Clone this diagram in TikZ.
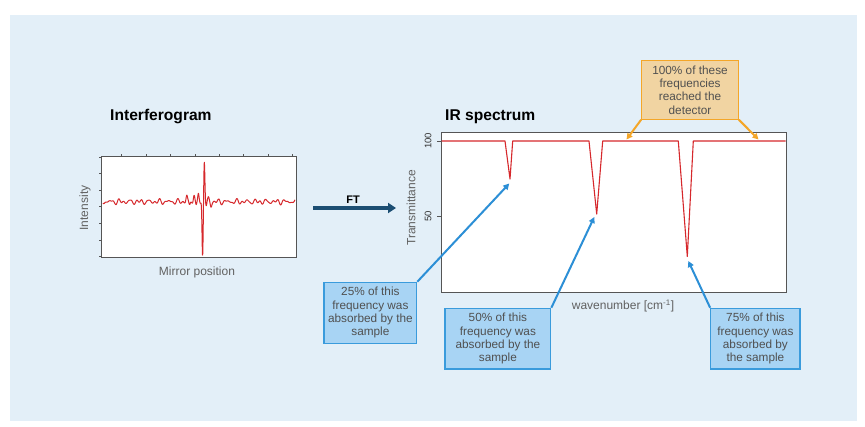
\documentclass[tikz,border=0pt]{standalone}
\usepackage{fontspec}
\setmainfont{Liberation Sans}
\usetikzlibrary{arrows.meta}
\definecolor{bgblue}{RGB}{227,239,248}
\definecolor{sigred}{RGB}{214,40,44}
\definecolor{ftblue}{RGB}{28,78,115}
\definecolor{orbord}{RGB}{244,166,40}
\definecolor{orfill}{RGB}{241,212,162}
\definecolor{blbord}{RGB}{58,155,220}
\definecolor{blfill}{RGB}{168,212,244}
\definecolor{blarrow}{RGB}{44,143,214}
\definecolor{txtgray}{RGB}{80,80,80}
\definecolor{axgray}{RGB}{85,85,85}
\begin{document}
\begin{tikzpicture}[x=1pt,y=-1pt,
  title/.style={font=\fontsize{15.6}{18}\selectfont\bfseries, text=black, inner sep=0pt},
  axlab/.style={font=\fontsize{12}{13}\selectfont, text=txtgray!90, inner sep=0pt},
  ticklab/.style={font=\fontsize{9.5}{11}\selectfont, text=black!80, inner sep=0pt},
  plotbox/.style={draw=axgray, line width=1pt, minimum width=#1, inner sep=0pt},
  sig/.style={draw=sigred, line width=1.1pt, line join=round},
  callout/.style={font=\fontsize{11.8}{13.4}\selectfont, text=txtgray, align=center, inner sep=0pt, line width=1.2pt},
  bluebox/.style={callout, draw=blbord, fill=blfill},
  orangebox/.style={callout, draw=orbord, fill=orfill},
  bluearrow/.style={draw=blarrow, line width=2pt, -{Triangle[length=6pt,width=6pt]}},
  orangearrow/.style={draw=orbord, line width=2pt, -{Triangle[length=6pt,width=6pt]}},
]
\useasboundingbox (0,0) rectangle (865,426);
\fill[bgblue] (10,15) rectangle (857,421);

% ---------- Interferogram ----------
\node[title, anchor=base west] (ttl1) at (110,120.5) {Interferogram};
\node[plotbox=195pt, minimum height=101pt, fill=white] (ibox) at (199.2,207.2) {};
\foreach \k in {0,...,7} {
  \draw[axgray, line width=0.8pt] (121.7+24.4*\k,156.7) -- ++(0,-3);
}
\foreach \k in {0,...,6} {
  \draw[axgray, line width=0.8pt] (101.7,157+16.6*\k) -- ++(-3,0);
}
\draw[sig, line width=1pt] plot[domain=103:295, samples=800] (\x,{201.7
  + 1.4*sin(37*(\x-103)) + 1.1*sin(61*(\x-103)+40) + 0.8*sin(79*(\x-103)+110)
  - 6*exp(max(-30,0-((\x-186.7)/1.0)*((\x-186.7)/1.0)))
  + 4*exp(max(-30,0-((\x-189.5)/1.0)*((\x-189.5)/1.0)))
  - 8*exp(max(-30,0-((\x-194)/1.0)*((\x-194)/1.0)))
  + 5*exp(max(-30,0-((\x-196.2)/0.9)*((\x-196.2)/0.9)))
  - 9*exp(max(-30,0-((\x-198.4)/0.9)*((\x-198.4)/0.9)))
  + 3*exp(max(-30,0-((\x-200.4)/0.8)*((\x-200.4)/0.8)))
  + 53*exp(max(-30,0-((\x-202.6)/0.8)*((\x-202.6)/0.8)))
  - 42*exp(max(-30,0-((\x-204.3)/0.8)*((\x-204.3)/0.8)))
  + 6*exp(max(-30,0-((\x-206.2)/0.9)*((\x-206.2)/0.9)))
  - 4*exp(max(-30,0-((\x-208.5)/1.0)*((\x-208.5)/1.0)))
  + 4*exp(max(-30,0-((\x-211)/1.0)*((\x-211)/1.0)))});
\node[axlab, rotate=90] (ilab) at (85,208) {Intensity};
\node[axlab] (mlab) at (197,272) {Mirror position};

% ---------- FT arrow ----------
\coordinate (fts) at (313,208);
\coordinate (fte) at (396,208);
\draw[ftblue, line width=3.5pt, -{Triangle[length=8pt,width=10pt]}] (fts) -- (fte);
\node[font=\fontsize{11}{13}\selectfont\bfseries, inner sep=0pt] (ft) at (353,200) {FT};

% ---------- IR spectrum ----------
\node[title, anchor=base west] (ttl2) at (445,120.5) {IR spectrum};
\node[plotbox=345pt, minimum height=159.6pt, fill=white] (irbox) at (613.5,212.5) {};
\coordinate (d1) at (510,179);
\coordinate (d2) at (596.7,214);
\coordinate (d3) at (687.3,256.5);
\draw[sig] (441.5,141) -- (505,141) -- (d1) -- (512.7,141) -- (589,141) -- (d2) -- (602.7,141)
  -- (678.3,141) -- (d3) -- (693.3,141) -- (785.5,141);
\draw[axgray, line width=0.8pt] (441,141) -- ++(-4,0);
\draw[axgray, line width=0.8pt] (441,216) -- ++(-4,0);
\node[ticklab, rotate=90] (t100) at (428,141) {100};
\node[ticklab, rotate=90] (t50) at (428,216) {50};
\node[axlab, rotate=90] (trlab) at (411,208) {Transmittance};
\node[axlab] (wnlab) at (623,306) {wavenumber [cm\textsuperscript{-1}]};

% ---------- Callouts ----------
\node[orangebox, minimum width=96.6pt, minimum height=58.3pt] (obox) at (690,90)
  {100\% of these\\frequencies\\reached the\\detector};
\coordinate (o1) at (626.5,139.5);
\coordinate (o2) at (758.5,139.5);
\draw[orangearrow] (obox.south west) -- (o1);
\draw[orangearrow] (obox.south east) -- (o2);

\node[bluebox, minimum width=92.7pt, minimum height=61pt] (b25) at (370.4,312.8)
  {25\% of this\\frequency was\\absorbed by the\\sample};
\node[bluebox, minimum width=105.7pt, minimum height=60.7pt] (b50) at (497.9,338.7)
  {50\% of this\\frequency was\\absorbed by the\\sample};
\node[bluebox, minimum width=89.3pt, minimum height=60.7pt] (b75) at (755.4,338.7)
  {75\% of this\\frequency was\\absorbed by\\the sample};
\coordinate (a1) at (509.3,183.5);
\coordinate (a2) at (594.3,217);
\coordinate (a3) at (688.3,261);
\draw[bluearrow] (b25.north east) -- (a1);
\draw[bluearrow] (b50.north east) -- (a2);
\draw[bluearrow] (b75.north west) -- (a3);
\end{tikzpicture}
\end{document}
